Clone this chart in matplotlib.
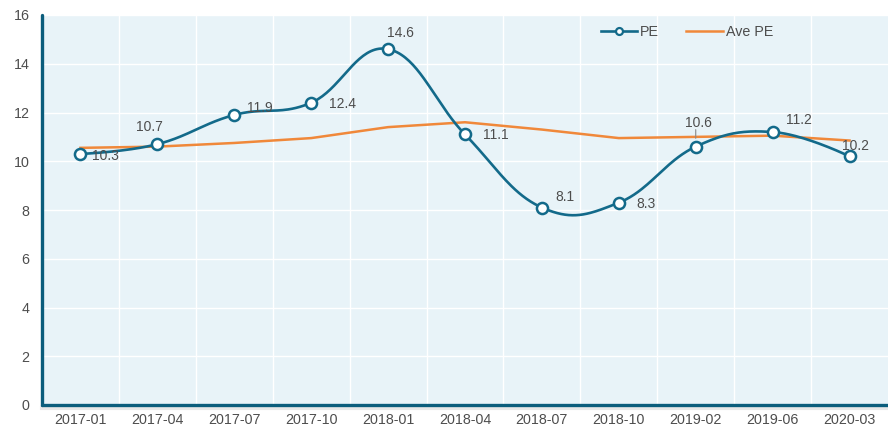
import numpy as np
import matplotlib
matplotlib.use("Agg")
import matplotlib.pyplot as plt
from matplotlib.lines import Line2D

categories = ["2017-01", "2017-04", "2017-07", "2017-10", "2018-01", "2018-04",
              "2018-07", "2018-10", "2019-02", "2019-06", "2020-03"]
pe = [10.3, 10.7, 11.9, 12.4, 14.6, 11.1, 8.1, 8.3, 10.6, 11.2, 10.2]
ave_pe = [10.55, 10.6, 10.75, 10.95, 11.4, 11.6, 11.3, 10.95, 11.0, 11.05, 10.85]
yticks = [0, 2, 4, 6, 8, 10, 12, 14, 16]

# label offsets in pixels (dx, dy)
label_offsets = [(12, -2), (-8, 17), (13, 7), (18, -1), (12, 16), (18, -1),
                 (23, 11), (18, -1), (3, 24), (26, 12), (6, 10)]
label_ha = ["left", "center", "left", "left", "center", "left",
            "center", "left", "center", "center", "center"]

TEAL = "#136a8a"
AXIS = "#0b5d7c"
ORANGE = "#f0883a"
BG = "#e8f3f8"
TXT = "#4d4d4d"
FAM = ["Liberation Sans", "DejaVu Sans"]


def smooth_curve(x, y, k=0.2, n=40):
    pts = np.column_stack([np.asarray(x, float), np.asarray(y, float)])
    out = []
    last = len(pts) - 1
    for i in range(last):
        p0 = pts[max(i - 1, 0)]
        p1 = pts[i]
        p2 = pts[i + 1]
        p3 = pts[min(i + 2, last)]
        c1 = p1 + k * (p2 - p0) if i > 0 else p1
        c2 = p2 - k * (p3 - p1) if i + 1 < last else p2
        t = np.linspace(0, 1, n)[:, None]
        seg = ((1 - t) ** 3) * p1 + 3 * ((1 - t) ** 2) * t * c1 + 3 * (1 - t) * t ** 2 * c2 + t ** 3 * p2
        out.append(seg if i == 0 else seg[1:])
    seg = np.vstack(out)
    return seg[:, 0], seg[:, 1]


fig = plt.figure(figsize=(8.88, 4.29), dpi=100)
ax = fig.add_axes([42 / 888, 24 / 429, 846 / 888, 390 / 429])
ax.set_facecolor(BG)

x = np.arange(len(categories))
ax.set_xlim(-0.5, len(categories) - 0.5)
ax.set_ylim(0, 16)

# grid
for gx in np.arange(0.5, len(categories) - 0.5, 1):
    ax.axvline(gx, color="white", lw=1.0, zorder=1)
for gy in yticks[1:]:
    ax.axhline(gy, color="white", lw=1.0, zorder=1)

ax.plot(x, ave_pe, color=ORANGE, lw=1.8, zorder=3)
sx, sy = smooth_curve(x, pe, k=0.2)
ax.plot(sx, sy, color=TEAL, lw=1.9, zorder=4)
ax.plot(x, pe, ls="none", marker="o", ms=8, mfc="white", mec=TEAL, mew=1.8, zorder=5)

for i, (xi, v) in enumerate(zip(x, pe)):
    dx, dy = label_offsets[i]
    ax.annotate(f"{v}", (xi, v), xytext=(dx, dy), textcoords="offset pixels",
                ha=label_ha[i], va="center", fontsize=10, color=TXT, zorder=6,
                family=FAM)
# leader line for 10.6
ax.annotate("", (x[8], pe[8]), xytext=(0, 17), textcoords="offset pixels",
            arrowprops=dict(arrowstyle="-", color="#888888", lw=0.8, shrinkA=0, shrinkB=6))

ax.set_xticks(x)
ax.set_xticklabels(categories)
ax.set_yticks(yticks)
ax.tick_params(axis="both", length=0, colors=TXT, labelsize=10.3)
ax.tick_params(axis="x", pad=6)
ax.tick_params(axis="y", pad=9)
for lab in ax.get_xticklabels() + ax.get_yticklabels():
    lab.set_family(FAM)

for sp in ["top", "right"]:
    ax.spines[sp].set_visible(False)
for sp in ["left", "bottom"]:
    ax.spines[sp].set_color(AXIS)
    ax.spines[sp].set_linewidth(2.4)
    ax.spines[sp].set_zorder(7)
    ax.spines[sp].set_capstyle("round")

# subtle shadow under bottom axis
ax.plot([0, 1], [-0.007, -0.007], transform=ax.transAxes, color="#000000",
        alpha=0.09, lw=3, clip_on=False, zorder=6)

handles = [Line2D([], [], color=TEAL, lw=1.9, marker="o", ms=5, mfc="white", mec=TEAL, mew=1.6),
           Line2D([], [], color=ORANGE, lw=1.8)]
leg = ax.legend(handles, ["PE", "Ave PE"], ncol=2, frameon=False, loc="center",
                handlelength=2.55, handletextpad=0.2, columnspacing=1.9,
                prop={"family": FAM, "size": 10.3})
leg.set_bbox_to_anchor(((687 - 42) / 846, (405 - 32) / 390), transform=ax.transAxes)
for t in leg.get_texts():
    t.set_color(TXT)

fig.savefig("out.png", dpi=100)
